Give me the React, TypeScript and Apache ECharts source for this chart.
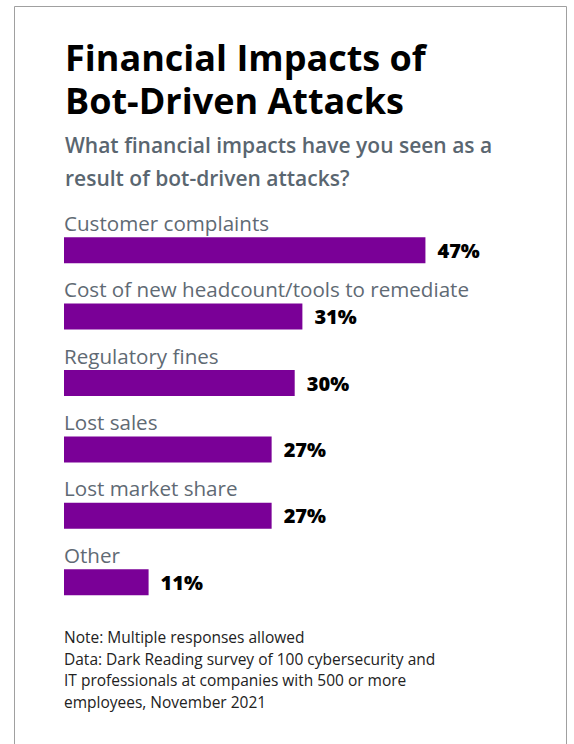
import React, { useEffect, useRef } from "react";
import * as echarts from "echarts";

const categories = [
  "Customer complaints",
  "Cost of new headcount/tools to remediate",
  "Regulatory fines",
  "Lost sales",
  "Lost market share",
  "Other",
];
const values = [47, 31, 30, 27, 27, 11];

const titleLines = ["Financial Impacts of", "Bot-Driven Attacks"];
const subtitleLines = ["What financial impacts have you seen as a", "result of bot-driven attacks?"];
const noteLines = [
  "Note: Multiple responses allowed",
  "Data: Dark Reading survey of 100 cybersecurity and",
  "IT professionals at companies with 500 or more",
  "employees, November 2021",
];

const FONT = "'Open Sans', 'Noto Sans', sans-serif";

export default function App() {
  const ref = useRef<HTMLDivElement>(null);
  useEffect(() => {
    if (!ref.current) return;
    const chart = echarts.init(ref.current, undefined, { renderer: "svg" });
    chart.setOption({
      animation: false,
      backgroundColor: "#ffffff",
      graphic: [
        {
          type: "rect",
          shape: { x: 14.5, y: 6.5, width: 552, height: 800 },
          style: { fill: "none", stroke: "#a0a0a0", lineWidth: 1 },
          silent: true,
        },
        ...titleLines.map((t, i) => ({
          type: "text",
          x: 65,
          y: 57 + i * 43,
          style: {
            text: t,
            fontFamily: FONT,
            fontSize: 36,
            fontWeight: "bold",
            fill: "#000000",
            verticalAlign: "middle",
          },
        })),
        ...subtitleLines.map((t, i) => ({
          type: "text",
          x: 65,
          y: 145 + i * 33,
          style: {
            text: t,
            fontFamily: FONT,
            fontSize: 21,
            fontWeight: 600,
            fill: "#5a6670",
            verticalAlign: "middle",
          },
        })),
        ...noteLines.map((t, i) => ({
          type: "text",
          x: 64,
          y: 637 + i * 21.7,
          style: {
            text: t,
            fontFamily: FONT,
            fontSize: 15.5,
            fill: "#222222",
            verticalAlign: "middle",
          },
        })),
      ],
      grid: { left: 64, top: 217, height: 398.4, width: 461.4, containLabel: false },
      xAxis: {
        type: "value",
        min: 0,
        max: 60,
        show: false,
      },
      yAxis: {
        type: "category",
        data: categories,
        inverse: true,
        show: false,
      },
      series: [
        {
          type: "bar",
          data: values,
          barWidth: 26,
          itemStyle: { color: "#7a0097" },
          label: {
            show: true,
            position: "right",
            distance: 12,
            formatter: "{c}%",
            fontFamily: FONT,
            fontSize: 20,
            fontWeight: 800,
            color: "#000000",
          },
        },
        {
          type: "bar",
          data: values,
          barWidth: 26,
          barGap: "-100%",
          itemStyle: { color: "rgba(0,0,0,0)" },
          silent: true,
          label: {
            show: true,
            position: [0, -4],
            align: "left",
            verticalAlign: "bottom",
            formatter: "{b}",
            fontFamily: FONT,
            fontSize: 20.6,
            fontWeight: "normal",
            color: "#5f6a74",
          },
        },
      ],
    });
    return () => chart.dispose();
  }, []);
  return (
    <div
      ref={ref}
      style={{ position: "fixed", left: 0, top: 0, width: 574, height: 744 }}
    />
  );
}
